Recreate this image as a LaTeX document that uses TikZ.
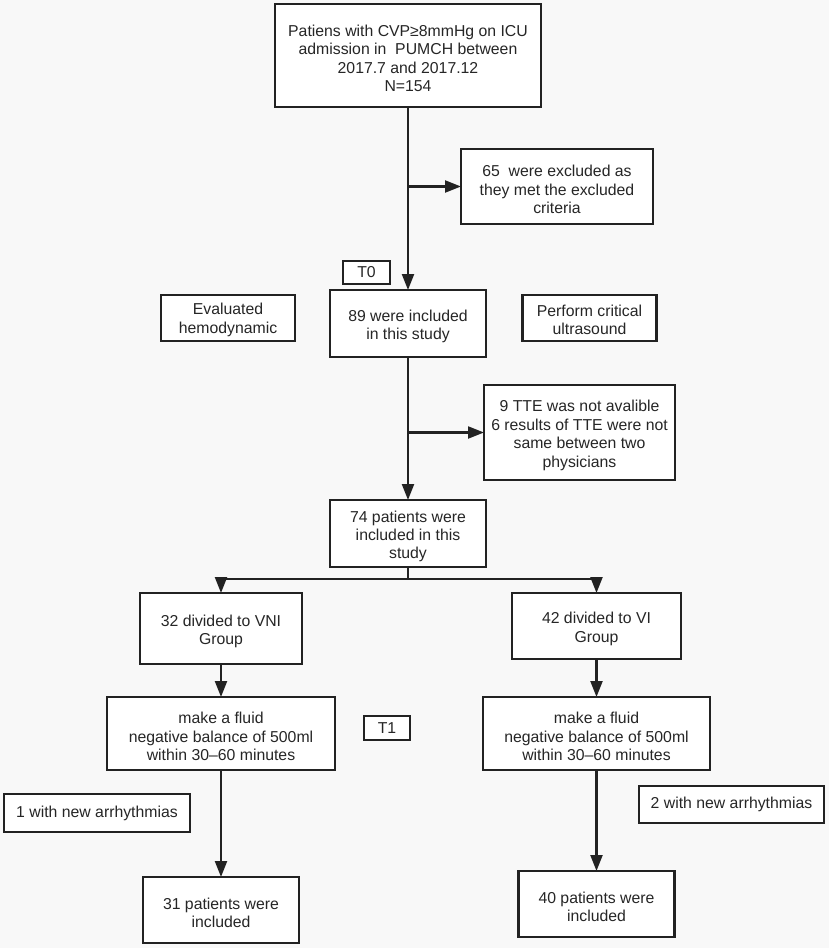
\documentclass[tikz,border=0pt]{standalone}
\usepackage{fontspec}
\setmainfont{Liberation Sans}
\usetikzlibrary{arrows.meta}
\definecolor{bg}{HTML}{F8F8F8}
\definecolor{ink}{HTML}{222222}
\definecolor{txt}{HTML}{262626}
\tikzset{
  box/.style={draw=ink, line width=2.1pt, fill=white, inner sep=0pt, outer sep=0pt,
    align=center, text=txt, font=\fontsize{15.8}{18.4}\selectfont},
  lbl/.style={align=center, text=txt, font=\fontsize{15.8}{18.4}\selectfont,
    inner sep=0pt, yshift=-3pt},
  conn/.style={draw=ink, line width=2.1pt},
  arr/.style={conn, -{Triangle[length=16pt,width=12pt]}}
}
\begin{document}
\begin{tikzpicture}[x=1pt,y=-1pt]
\fill[bg] (0,0) rectangle (829,948);
\useasboundingbox (0,0) rectangle (829,948);

\node[box, minimum width=266pt, minimum height=103pt,
  label={[lbl]center:{Patiens with CVP≥8mmHg on ICU\\admission in\ \ PUMCH between\\2017.7 and 2017.12\\N=154}}]
  (top) at (408,55.5) {};
\node[box, minimum width=192pt, minimum height=75pt,
  label={[lbl]center:{65\ \ were excluded as\\they met the excluded\\criteria}}]
  (excl) at (557,186.5) {};
\node[box, minimum width=47pt, minimum height=23pt] (t0) at (366.5,272.5) {T0};
\node[box, minimum width=134pt, minimum height=46pt,
  label={[lbl, yshift=1pt]center:{Evaluated\\hemodynamic}}]
  (eval) at (228,318) {};
\node[box, minimum width=156pt, minimum height=67pt,
  label={[lbl]center:{89 were included\\in this study}}]
  (n89) at (408,323.5) {};
\node[box, minimum width=134pt, minimum height=46pt,
  label={[lbl, yshift=1pt]center:{Perform critical\\ultrasound}}]
  (perf) at (589.5,318) {};
\node[box, minimum width=191pt, minimum height=95pt,
  label={[lbl]center:{9 TTE was not avalible\\6 results of TTE were not\\same between two\\physicians}}]
  (tte) at (579.5,432.5) {};
\node[box, minimum width=156pt, minimum height=67pt,
  label={[lbl]center:{74 patients were\\included in this\\study}}]
  (n74) at (408,533.5) {};
\node[box, minimum width=162pt, minimum height=71pt,
  label={[lbl]center:{32 divided to VNI\\Group}}]
  (vni) at (221,628.5) {};
\node[box, minimum width=169pt, minimum height=66pt,
  label={[lbl]center:{42 divided to VI\\Group}}]
  (vi) at (596.5,626) {};
\node[box, minimum width=228pt, minimum height=73pt,
  label={[lbl]center:{make a fluid\\negative balance of 500ml\\within 30--60 minutes}}]
  (mfl) at (221,733.5) {};
\node[box, minimum width=46pt, minimum height=24pt] (t1) at (387,728) {T1};
\node[box, minimum width=227pt, minimum height=73pt,
  label={[lbl]center:{make a fluid\\negative balance of 500ml\\within 30--60 minutes}}]
  (mfr) at (596.5,733.5) {};
\node[box, minimum width=186pt, minimum height=38pt] (arl) at (97,813)
  {1 with new arrhythmias};
\node[box, minimum width=185pt, minimum height=37pt] (arr) at (731.5,804.5)
  {2 with new arrhythmias};
\node[box, minimum width=156pt, minimum height=66pt,
  label={[lbl]center:{31 patients were\\included}}]
  (n31) at (221,910) {};
\node[box, minimum width=156pt, minimum height=66pt,
  label={[lbl]center:{40 patients were\\included}}]
  (n40) at (596.5,904) {};

\coordinate (br) at (408,579);

\draw[arr] (top.south) -- (n89.north);
\draw[arr] (top.south |- excl.west) -- (excl.west);
\draw[arr] (n89.south) -- (n74.north);
\draw[arr] (n89.south |- tte.west) -- (tte.west);
\draw[conn] (n74.south) -- (br);
\draw[arr] (br) -| (vni.north);
\draw[arr] (br) -| (vi.north);
\draw[arr] (vni.south) -- (mfl.north);
\draw[arr] (vi.south) -- (mfr.north);
\draw[arr] (mfl.south) -- (n31.north);
\draw[arr] (mfr.south) -- (n40.north);
\end{tikzpicture}
\end{document}
